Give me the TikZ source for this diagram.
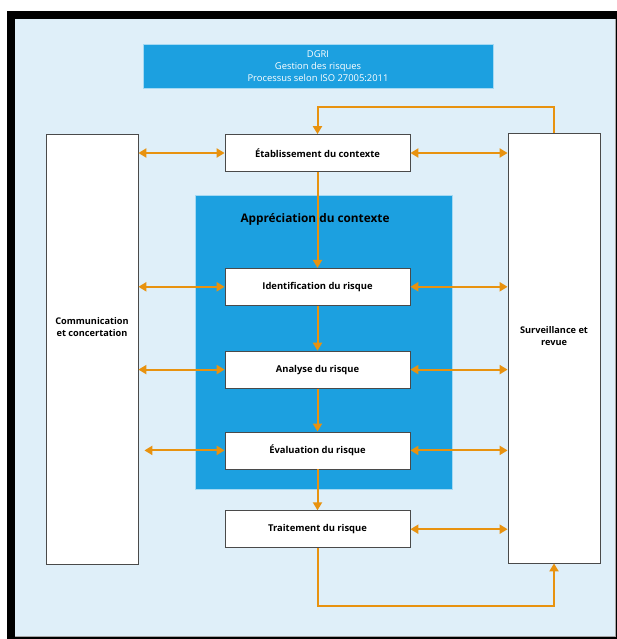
\documentclass[tikz,border=0pt]{standalone}
\usepackage{fontspec}
\setmainfont{Open Sans}
\usetikzlibrary{positioning,calc,arrows.meta}
\definecolor{orangeline}{HTML}{E8920F}
\definecolor{panelblue}{HTML}{1CA0E0}
\definecolor{skyback}{HTML}{DFEFF9}
\definecolor{boxgrey}{HTML}{4A4A4A}
\tikzset{block/.style={draw=boxgrey,fill=white,line width=0.8pt,minimum width=185pt,minimum height=37pt,inner sep=0pt,align=center,font=\bfseries\fontsize{9.4}{11}\selectfont},
         tallblock/.style={draw=boxgrey,fill=white,line width=0.8pt,minimum width=92pt,minimum height=430pt},
         caption/.style={draw=none,align=center,inner sep=0pt,font=\bfseries\fontsize{9.2}{12.5}\selectfont}
}
\tikzstyle{arrow} = [orangeline,line width=2pt,->,>={Triangle[length=8pt,width=9pt]}]
\tikzstyle{biarrow} = [orangeline,line width=2pt,<->,>={Triangle[length=8pt,width=9pt]}]

\begin{document}
\begin{tikzpicture}[x=1pt,y=-1pt]

\useasboundingbox (0,0) rectangle (617,639);
\fill[black] (7,11) rectangle (617,639);
\fill[skyback] (15,19) rectangle (615,636);
\draw[gray!70] (615,19) -- (615,636) -- (15,636);

\node[draw=white!60!panelblue,fill=panelblue,minimum width=350pt,minimum height=44pt,align=center,text=white,font=\fontsize{9.4}{12}\selectfont] (dgri) at (318,66) {DGRI\\Gestion des risques\\Processus selon ISO 27005:2011};
\node[draw=white!60!panelblue,fill=panelblue,minimum width=257pt,minimum height=294pt] (apprec) at (323.5,342) {};
\node[caption,font=\bfseries\fontsize{11.8}{13}\selectfont] (apprectitle) at (315,219) {Appréciation du contexte};

\node[block] (etab) at (317.5,153) {Établissement du contexte};
\node[block,below=96pt of etab] (ident) {Identification du risque};
\node[block,below=45pt of ident] (analyse) {Analyse du risque};
\node[block,below=43pt of analyse] (eval) {Évaluation du risque};
\node[block,below=41pt of eval] (trait) {Traitement du risque};

\node[tallblock] (comm) at (92,349) {};
\node[caption] (commtext) at (92,327) {Communication\\et concertation};
\node[tallblock] (surv) at (554,348) {};
\node[caption] (survtext) at (554,336) {Surveillance et\\revue};

\draw[arrow] (etab)--(ident);
\draw[arrow] (ident)--(analyse);
\draw[arrow] (analyse)--(eval);
\draw[arrow] (eval)--(trait);
\draw[biarrow] (comm.east |- etab.west)--(etab.west);
\draw[biarrow] (comm.east |- ident.west)--(ident.west);
\draw[biarrow] (comm.east |- analyse.west)--(analyse.west);
\draw[biarrow] ($(comm.east |- eval.west)+(6,0)$)--(eval.west);
\draw[biarrow] (etab.east)--(surv.west |- etab.east);
\draw[biarrow] (ident.east)--(surv.west |- ident.east);
\draw[biarrow] (analyse.east)--(surv.west |- analyse.east);
\draw[biarrow] (eval.east)--(surv.west |- eval.east);
\draw[biarrow] (trait.east)--(surv.west |- trait.east);
\draw[arrow] (surv.north)--++(0,-26)-|(etab.north);
\draw[arrow] (trait.south)--++(0,58)-|(surv.south);

\end{tikzpicture}
\end{document}
